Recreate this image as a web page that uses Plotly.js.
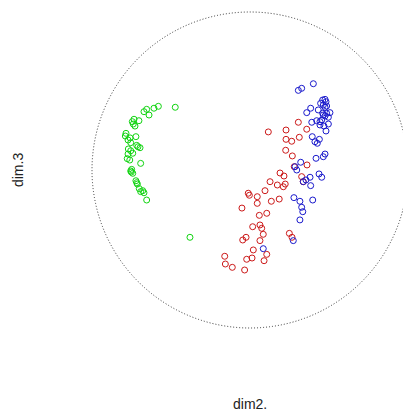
<!DOCTYPE html>
<html>
<head>
<meta charset="utf-8">
<script src="https://cdn.plot.ly/plotly-3.0.1.min.js"></script>
<style>
  html, body { margin: 0; padding: 0; background: #fff; }
  #plot { width: 403px; height: 414px; }
</style>
</head>
<body>
<div id="plot"></div>
<script>
// Projected scores on dimensions 2 and 3, one group per colour.
const greenX = [-0.473, -0.580, -0.608, -0.639, -0.654, -0.671, -0.703, -0.734, -0.739, -0.728,
                -0.745, -0.785, -0.789, -0.759, -0.722, -0.772, -0.755, -0.717, -0.696, -0.709,
                -0.770, -0.755, -0.772, -0.742, -0.777, -0.761, -0.692, -0.749, -0.751, -0.742,
                -0.755, -0.722, -0.717, -0.713, -0.701, -0.679, -0.692, -0.671, -0.654, -0.380];
const greenY = [0.397, 0.403, 0.391, 0.348, 0.384, 0.369, 0.312, 0.321, 0.291, 0.278,
                0.306, 0.232, 0.215, 0.203, 0.211, 0.190, 0.173, 0.156, 0.141, 0.147,
                0.133, 0.122, 0.101, 0.106, 0.072, 0.063, 0.042, 0.004, -0.013, -0.021,
                -0.006, -0.068, -0.080, -0.089, -0.118, -0.131, -0.137, -0.144, -0.190, -0.426];

const redX = [0.116, 0.228, 0.306, 0.359, 0.312, 0.228, 0.264, 0.226, 0.268, 0.361,
              0.280, 0.190, 0.215, 0.127, 0.173, 0.211, 0.223, 0.327, 0.337, 0.095,
              0.185, 0.135, -0.011, -0.004, 0.046, 0.046, -0.051, 0.106, 0.059, 0.063,
              0.017, 0.074, 0.084, -0.025, -0.046, 0.063, 0.021, 0.106, -0.160, -0.156,
              -0.112, -0.021, 0.013, 0.089, -0.034, 0.249, 0.266];
const redY = [0.241, 0.253, 0.302, 0.258, 0.207, 0.194, 0.182, 0.125, 0.089, 0.032,
              0.021, -0.019, -0.038, -0.074, -0.095, -0.106, -0.089, -0.042, -0.074, -0.131,
              -0.184, -0.198, -0.147, -0.160, -0.169, -0.211, -0.241, -0.274, -0.287, -0.348,
              -0.359, -0.369, -0.407, -0.426, -0.443, -0.447, -0.506, -0.534, -0.546, -0.595,
              -0.616, -0.565, -0.557, -0.574, -0.633, -0.401, -0.426];

const blueX = [0.401, 0.327, 0.306, 0.460, 0.475, 0.481, 0.447, 0.464, 0.485, 0.475,
               0.384, 0.432, 0.359, 0.460, 0.485, 0.506, 0.475, 0.496, 0.454, 0.422,
               0.391, 0.443, 0.468, 0.496, 0.481, 0.443, 0.464, 0.394, 0.439, 0.411,
               0.426, 0.475, 0.464, 0.418, 0.321, 0.285, 0.296, 0.437, 0.454, 0.380,
               0.337, 0.354, 0.384, 0.278, 0.316, 0.397, 0.327, 0.334, 0.316, 0.274, 0.084];
const blueY = [0.546, 0.517, 0.504, 0.443, 0.447, 0.432, 0.422, 0.411, 0.405, 0.397,
               0.391, 0.380, 0.363, 0.359, 0.359, 0.363, 0.342, 0.334, 0.316, 0.312,
               0.302, 0.285, 0.278, 0.291, 0.247, 0.306, 0.348, 0.211, 0.194, 0.179,
               0.169, 0.101, 0.084, 0.074, 0.049, 0.021, 0.000, -0.025, -0.046, -0.046,
               -0.074, -0.063, -0.099, -0.175, -0.198, -0.190, -0.236, -0.264, -0.316, -0.447, -0.498];

const axisTitleX = 'dim2.';
const axisTitleY = 'dim.3';

function group(x, y, color) {
  return {
    type: 'scatter', mode: 'markers', x: x, y: y,
    marker: { symbol: 'circle-open', size: 6, color: color, line: { width: 1, color: color } },
    hoverinfo: 'skip', showlegend: false
  };
}

const data = [
  group(redX, redY, '#cc1a1a'),
  group(greenX, greenY, '#11d411'),
  group(blueX, blueY, '#1a1acc')
];

const hidden = { showgrid: false, zeroline: false, showticklabels: false, showline: false, ticks: '' };

const layout = {
  width: 403, height: 414,
  margin: { l: 0, r: 0, t: 0, b: 0 },
  paper_bgcolor: '#fff', plot_bgcolor: '#fff',
  xaxis: Object.assign({ range: [-1.5823, 0.9684] }, hidden),
  yaxis: Object.assign({ range: [-1.5443, 1.0759] }, hidden),
  // unit circle, fine dotted outline
  shapes: [{
    type: 'circle', xref: 'x', yref: 'y', x0: -1, x1: 1, y0: -1, y1: 1,
    line: { color: '#333', width: 1, dash: '1px,2px' }, layer: 'below'
  }],
  annotations: [
    { x: 0, y: -1.481, xref: 'x', yref: 'y', text: axisTitleX, showarrow: false,
      font: { family: 'Liberation Sans, Arial, sans-serif', size: 14, color: '#222' } },
    { x: -1.468, y: 0, xref: 'x', yref: 'y', text: axisTitleY, showarrow: false, textangle: -90,
      font: { family: 'Liberation Sans, Arial, sans-serif', size: 14, color: '#222' } }
  ],
  showlegend: false
};

Plotly.newPlot('plot', data, layout, { staticPlot: true, displayModeBar: false });
</script>
</body>
</html>
